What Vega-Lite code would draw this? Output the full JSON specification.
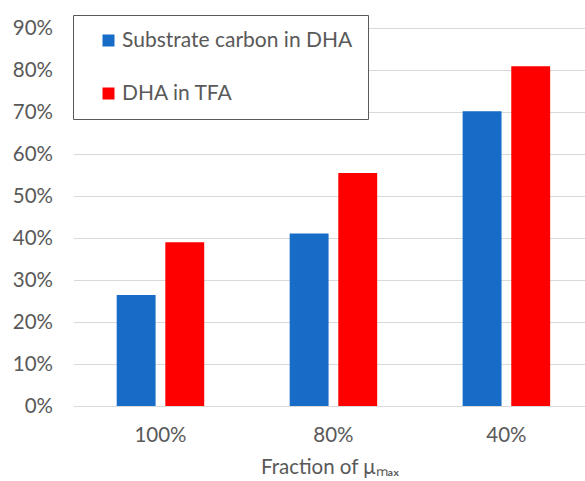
{
  "$schema": "https://vega.github.io/schema/vega-lite/v6.json",
  "width": 512,
  "height": 378,
  "autosize": {"type": "none"},
  "padding": {"left": 73.5, "top": 28, "right": 0, "bottom": 75},
  "background": "white",
  "config": {
    "view": {"stroke": null},
    "font": "Lato",
    "axis": {
      "labelFont": "Lato",
      "titleFont": "Lato",
      "labelFontSize": 20.5,
      "titleFontSize": 20.5,
      "labelColor": "#595959",
      "titleColor": "#595959",
      "titleFontWeight": "normal",
      "ticks": false
    },
    "legend": {
      "labelFont": "Lato",
      "labelFontSize": 21,
      "labelColor": "#595959",
      "labelLimit": 400
    }
  },
  "data": {
    "values": [
      {"fraction": "100%", "measure": "Substrate carbon in DHA", "value": 0.264},
      {"fraction": "100%", "measure": "DHA in TFA", "value": 0.39},
      {"fraction": "80%", "measure": "Substrate carbon in DHA", "value": 0.411},
      {"fraction": "80%", "measure": "DHA in TFA", "value": 0.555},
      {"fraction": "40%", "measure": "Substrate carbon in DHA", "value": 0.702},
      {"fraction": "40%", "measure": "DHA in TFA", "value": 0.809}
    ]
  },
  "mark": {"type": "bar"},
  "encoding": {
    "x": {
      "field": "fraction",
      "type": "nominal",
      "title": "Fraction of μₘₐₓ",
      "scale": {"domain": ["100%", "80%", "40%"], "paddingInner": 0.494, "paddingOuter": 0.227, "align": 0.55},
      "axis": {
        "labelAngle": 0,
        "labelPadding": 19,
        "titlePadding": 12,
        "domainColor": "#d9d9d9",
        "domainWidth": 1
      }
    },
    "xOffset": {
      "field": "measure",
      "type": "nominal",
      "scale": {"domain": ["Substrate carbon in DHA", "DHA in TFA"], "paddingInner": 0.2}
    },
    "y": {
      "field": "value",
      "type": "quantitative",
      "title": null,
      "scale": {"domain": [0, 0.9], "nice": false},
      "axis": {
        "format": ".0%",
        "values": [0, 0.1, 0.2, 0.3, 0.4, 0.5, 0.6, 0.7, 0.8, 0.9],
        "domain": false,
        "gridColor": "#d9d9d9",
        "gridWidth": 1,
        "labelPadding": 21
      }
    },
    "color": {
      "field": "measure",
      "type": "nominal",
      "scale": {
        "domain": ["Substrate carbon in DHA", "DHA in TFA"],
        "range": ["#166cc6", "#ff0000"]
      },
      "legend": {
        "title": null,
        "orient": "none",
        "legendX": -0.5,
        "legendY": -13,
        "direction": "vertical",
        "symbolType": "square",
        "symbolSize": 144,
        "symbolStrokeWidth": 0,
        "symbolOffset": 10,
        "labelOffset": 3,
        "rowPadding": 31,
        "padding": 15,
        "fillColor": "white",
        "strokeColor": "#595959"
      }
    }
  }
}
